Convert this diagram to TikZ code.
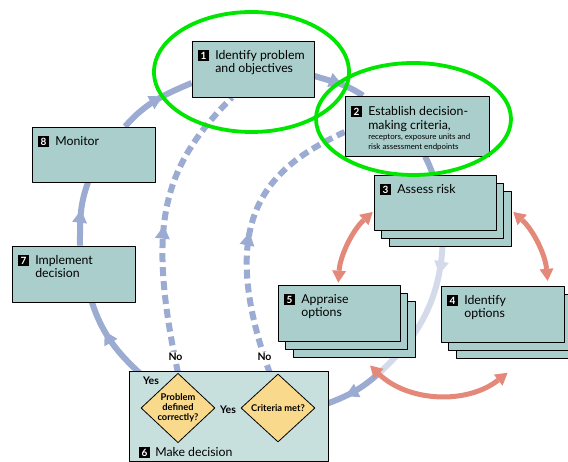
\documentclass[tikz,border=0pt]{standalone}
\usepackage{fontspec}
\setmainfont{Lato}
\usetikzlibrary{shapes.geometric,shadows,arrows.meta,decorations.markings,backgrounds}

\definecolor{boxfill}{HTML}{A9CECB}
\definecolor{makefill}{HTML}{C7E0DD}
\definecolor{askfill}{HTML}{F9D98C}
\definecolor{flowc}{HTML}{9BABD1}
\definecolor{palec}{HTML}{D4DAEA}
\definecolor{loopc}{HTML}{E4887A}
\definecolor{focusc}{HTML}{00E600}

% black square with the step number
\newcommand{\stepno}[1]{{\setlength{\fboxsep}{0pt}\colorbox{black}{\makebox[11.5pt]{\rule[-1.2pt]{0pt}{11pt}\color{white}\bfseries\fontsize{10}{10}\selectfont #1}}}}

\begin{document}
\begin{tikzpicture}[x=1pt, y=1pt, line join=round,
  box/.style={draw=black, line width=0.8pt, fill=boxfill, inner sep=0pt},
  stack/.style={box, copy shadow={shadow xshift=15pt, shadow yshift=-16pt},
    copy shadow={shadow xshift=7.5pt, shadow yshift=-8pt}},
  boxtext/.style={anchor=north west, inner sep=0pt, xshift=6pt, yshift=-9pt,
    align=left, font=\fontsize{12.3}{12.5}\selectfont},
  ask/.style={diamond, draw=black, line width=0.8pt, fill=askfill, inner sep=0pt,
    minimum width=74pt, minimum height=68pt, align=center,
    font=\bfseries\fontsize{9.3}{10}\selectfont},
  yesno/.style={inner sep=1pt, font=\bfseries\fontsize{10.5}{11}\selectfont},
  midarrow/.style={postaction={decorate, decoration={markings,
    mark=at position #1 with {\arrow{Triangle[length=13pt,width=15pt,line width=0pt]}}}}},
  flowline/.style={color=flowc, line width=6pt},
  flowpale/.style={color=palec, line width=6pt},
  flowdash/.style={flowline, dash pattern=on 9pt off 5pt},
  optloop/.style={color=loopc, line width=5pt,
    {Triangle[length=12pt,width=14pt,line width=0pt]}-{Triangle[length=12pt,width=14pt,line width=0pt]}},
  focus/.style={draw=focusc, line width=3.8pt}]
\useasboundingbox (0,0) rectangle (568,462);

% boxes
\node[box, minimum width=122pt, minimum height=56pt,
  label={[boxtext]north west:{\stepno{1}\hspace{6pt}\parbox[t]{100pt}{Identify problem\\and objectives}}}] (b1) at (253,393) {};
\node[box, minimum width=144pt, minimum height=60pt,
  label={[boxtext, yshift=-1pt, font=\fontsize{12.3}{14}\selectfont]north west:{\stepno{2}\hspace{6pt}\parbox[t]{118pt}{Establish decision-\\making criteria,\endgraf\fontsize{7.9}{10}\selectfont receptors, exposure units and\\risk assessment endpoints}}}] (b2) at (417,336) {};
\node[stack, minimum width=122pt, minimum height=55pt,
  label={[boxtext]north west:{\stepno{3}\hspace{6pt}Assess risk}}] (b3) at (435,259.5) {};
\node[stack, minimum width=123pt, minimum height=56pt,
  label={[boxtext]north west:{\stepno{4}\hspace{6pt}\parbox[t]{90pt}{Identify\\options}}}] (b4) at (502.5,148) {};
\node[stack, minimum width=122pt, minimum height=56pt,
  label={[boxtext]north west:{\stepno{5}\hspace{6pt}\parbox[t]{90pt}{Appraise\\options}}}] (b5) at (339,149) {};
\node[box, fill=makefill, minimum width=199pt, minimum height=90pt,
  label={[boxtext, anchor=south west, xshift=4pt, yshift=12pt]south west:{\stepno{6}\hspace{5pt}Make decision}}] (b6) at (228.5,46) {};
\node[box, minimum width=123pt, minimum height=56pt,
  label={[boxtext]north west:{\stepno{7}\hspace{6pt}\parbox[t]{90pt}{Implement\\decision}}}] (b7) at (73.5,188) {};
\node[box, minimum width=123pt, minimum height=55pt,
  label={[boxtext]north west:{\stepno{8}\hspace{6pt}Monitor}}] (b8) at (93.5,307.5) {};

% questions
\node[ask] (d1) at (178,54) {Problem\\defined\\correctly?};
\node[ask] (d2) at (278,54) {Criteria met?};

\begin{scope}[on background layer]
\coordinate (m) at (378,88);
\coordinate (hub) at (443,172);
% main cycle
\draw[flowline, midarrow=0.56] ([xshift=6.5pt]b7.north) to[out=90,in=250] ([xshift=-5.5pt]b8.south);
\draw[flowline, midarrow=0.6] ([xshift=31.5pt]b8.north) to[out=49,in=203] ([yshift=-14pt]b1.west);
\draw[flowline, midarrow=0.55] ([yshift=-7pt]b1.east) to[out=-17,in=146] ([xshift=-54pt]b2.north);
\draw[flowline] ([xshift=8pt]b2.south) to[out=-62,in=112] ([xshift=-2pt]b3.north);
\draw[flowpale, midarrow=0.27] ([xshift=8pt]b3.south) to[out=-90,in=42] (m);
\draw[flowline, midarrow=0.55] (m) to[out=-138,in=20] (d2.east);
\draw[flowline, midarrow=0.72] (d1.north west) to[out=139,in=288] ([xshift=18.5pt]b7.south);
\draw[color=flowc!60!makefill, line width=2pt] (d2.west) -- (d1.east);
% back to earlier steps
\draw[flowdash, midarrow=0.5] (d1.north) .. controls +(102:150pt) and +(225:100pt) .. ([xshift=-21pt]b1.south);
\draw[flowdash, midarrow=0.5] ([xshift=-8pt]d2.north) .. controls +(110:170pt) and +(205:80pt) .. ([yshift=-6pt]b2.west);
% loop 3-4-5
\draw[optloop] ([shift={(132:105pt)}]hub) arc[start angle=132, end angle=176, radius=105pt];
\draw[optloop] ([shift={(48:105pt)}]hub) arc[start angle=48, end angle=5, radius=105pt];
\draw[optloop] ([shift={(226:105pt)}]hub) arc[start angle=226, end angle=308, radius=105pt];
\end{scope}

\node[yesno] (yes1) at (151,81) {Yes};
\node[yesno, fill=makefill] (yes2) at (228,52) {Yes};
\node[yesno, fill=white] (no1) at (175.5,105) {No};
\node[yesno, fill=white] (no2) at (264.5,105) {No};

% highlight rings
\draw[focus] ([xshift=-1.5pt,yshift=-3pt]b1.center) ellipse[x radius=97.5pt, y radius=60pt];
\draw[focus] ([xshift=-3.5pt,yshift=7pt]b2.center) ellipse[x radius=97.5pt, y radius=56pt];
\end{tikzpicture}
\end{document}
